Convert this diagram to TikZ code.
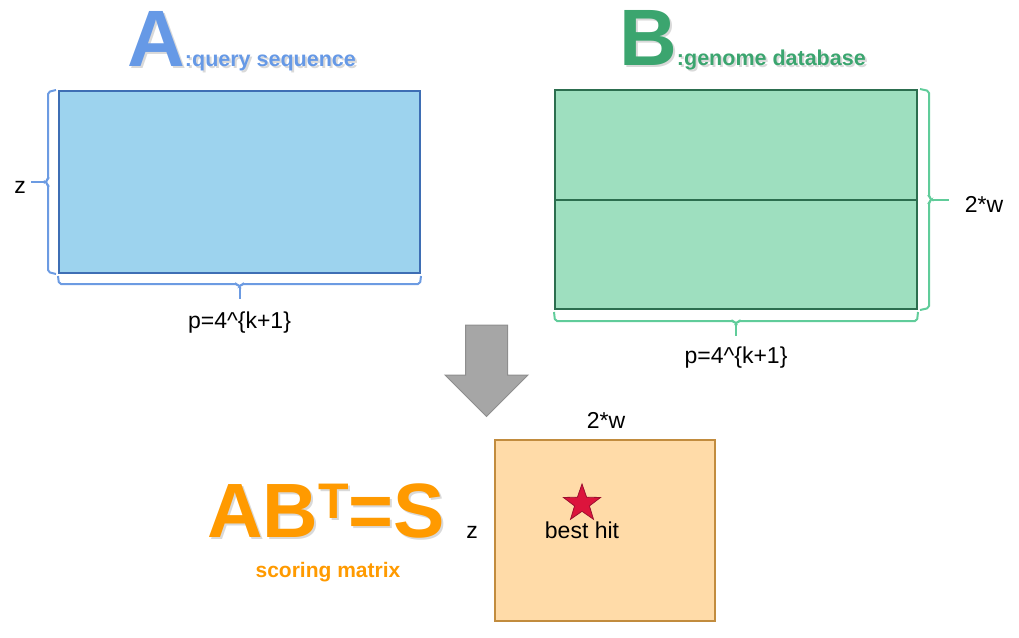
\documentclass[tikz,border=0pt]{standalone}
\usepackage{fontspec}
\setmainfont{Liberation Sans}
\usetikzlibrary{calc, positioning, shapes.geometric}

\definecolor{qfill}{HTML}{9DD3EE}
\definecolor{qedge}{HTML}{3E6EB4}
\definecolor{qbrace}{HTML}{6C9BE2}
\definecolor{qtitle}{HTML}{6699E6}
\definecolor{dfill}{HTML}{9EDFBF}
\definecolor{dedge}{HTML}{2C6E4F}
\definecolor{dbrace}{HTML}{60CC9A}
\definecolor{dtitle}{HTML}{3BA56F}
\definecolor{sfill}{HTML}{FFDBA8}
\definecolor{sedge}{HTML}{C28C3E}
\definecolor{sorange}{HTML}{FF9A00}
\definecolor{hitred}{HTML}{DC143C}
\definecolor{hitedge}{HTML}{9B1030}
\definecolor{arrowgray}{HTML}{A6A6A6}
\definecolor{arrowedge}{HTML}{8E8E8E}

\begin{document}
\begin{tikzpicture}[x=1pt, y=-1pt,
  lbl/.style={font=\fontsize{23}{27}\selectfont, inner sep=0pt},
  title/.style={anchor=base west, inner sep=0pt, font=\bfseries},
  matA/.style={draw=qedge, fill=qfill, line width=2pt, minimum width=361pt, minimum height=182pt, inner sep=0pt},
  matB/.style={draw=dedge, fill=dfill, line width=2pt, minimum width=362pt, minimum height=219pt, inner sep=0pt},
  matS/.style={draw=sedge, fill=sfill, line width=2pt, minimum width=220pt, minimum height=181pt, inner sep=0pt},
  braceA/.style={draw=qbrace, line width=2pt, rounded corners=2pt},
  braceB/.style={draw=dbrace, line width=2pt, rounded corners=2pt},
  hitstar/.style={star, star points=5, star point ratio=2.5, minimum size=39pt, inner sep=0pt, fill=hitred, draw=hitedge, line width=0.8pt},
  eqn/.style={anchor=base west, inner sep=0pt, font=\bfseries\fontsize{77}{77}\selectfont}]
\useasboundingbox (0,0) rectangle (1019,637);

% Titles
\node[title, text=black!15] at (129,68) {{\fontsize{80}{80}\selectfont A}{\fontsize{21.5}{26}\selectfont :query sequence}};
\node[title, text=qtitle] (tA) at (127,66) {{\fontsize{80}{80}\selectfont A}{\fontsize{21.5}{26}\selectfont :query sequence}};
\node[title, text=black!15] at (621,67) {{\fontsize{80}{80}\selectfont B}{\fontsize{21.5}{26}\selectfont :genome database}};
\node[title, text=dtitle] (tB) at (619,65) {{\fontsize{80}{80}\selectfont B}{\fontsize{21.5}{26}\selectfont :genome database}};

% Query matrix A
\node[matA] (qA) at (239.5,182) {};
\draw[braceA] ($(qA.north west)+(-2,0)$) -- ++(-8,2) -- ($(qA.west)+(-10,-2)$) -- ($(qA.west)+(-13,0)$)
  -- ($(qA.west)+(-10,2)$) -- ($(qA.south west)+(-10,-2)$) -- ++(8,2);
\draw[braceA] ($(qA.west)+(-13,0)$) -- ++(-14,0);
\node[lbl] (zA) at ($(qA.west)+(-38,5)$) {z};
\draw[braceA] ($(qA.south west)+(0,2)$) -- ++(1,8) -- ($(qA.south)+(-2,10)$) -- ($(qA.south)+(0,13)$)
  -- ($(qA.south)+(2,10)$) -- ($(qA.south east)+(-1,10)$) -- ++(1,-8);
\draw[braceA] ($(qA.south)+(0,13)$) -- ++(0,12);
\node[lbl] (pA) at ($(qA.south)+(0,49)$) {p=4\textasciicircum\{k+1\}};

% Database matrix B
\node[matB] (dbB) at (736,199.5) {};
\draw[draw=dedge, line width=2pt] (dbB.west) -- (dbB.east);
\draw[braceB] ($(dbB.north east)+(2,0)$) -- ++(9,2) -- ($(dbB.east)+(11,-2)$) -- ($(dbB.east)+(14,0)$)
  -- ($(dbB.east)+(11,2)$) -- ($(dbB.south east)+(11,-2)$) -- ++(-9,2);
\draw[braceB] ($(dbB.east)+(14,0)$) -- ++(17,0);
\node[lbl] (wB) at ($(dbB.east)+(66,4.5)$) {2*w};
\draw[braceB] ($(dbB.south west)+(0,2)$) -- ++(1,9) -- ($(dbB.south)+(-2,11)$) -- ($(dbB.south)+(0,14)$)
  -- ($(dbB.south)+(2,11)$) -- ($(dbB.south east)+(-1,11)$) -- ++(1,-9);
\draw[braceB] ($(dbB.south)+(0,14)$) -- ++(0,12);
\node[lbl] (pB) at ($(dbB.south)+(0,48)$) {p=4\textasciicircum\{k+1\}};

% Arrow
\filldraw[fill=arrowgray, draw=arrowedge, line width=1pt] (465.5,325) -- (507.5,325) -- (507.5,375) -- (528,375)
  -- (486.5,416.5) -- (445,375) -- (465.5,375) -- cycle;

% Scoring matrix S
\node[eqn, text=black!15] at (209,539) {AB\raisebox{19pt}{\fontsize{50}{50}\selectfont T}=S};
\node[eqn, text=sorange] (eq) at (207,537) {AB\raisebox{19pt}{\fontsize{50}{50}\selectfont T}=S};
\node[anchor=base, inner sep=0pt, text=sorange, font=\bfseries\fontsize{21}{25}\selectfont] (sm) at (328,577) {scoring matrix};
\node[matS] (sS) at (605,530.5) {};
\node[lbl] (wS) at ($(sS.north)+(1,-19)$) {2*w};
\node[lbl] (zS) at ($(sS.west)+(-22,2)$) {z};
\node[hitstar] (hit) at (582,503.5) {};
\node[lbl] (bh) at (582,530) {best hit};

\end{tikzpicture}
\end{document}
